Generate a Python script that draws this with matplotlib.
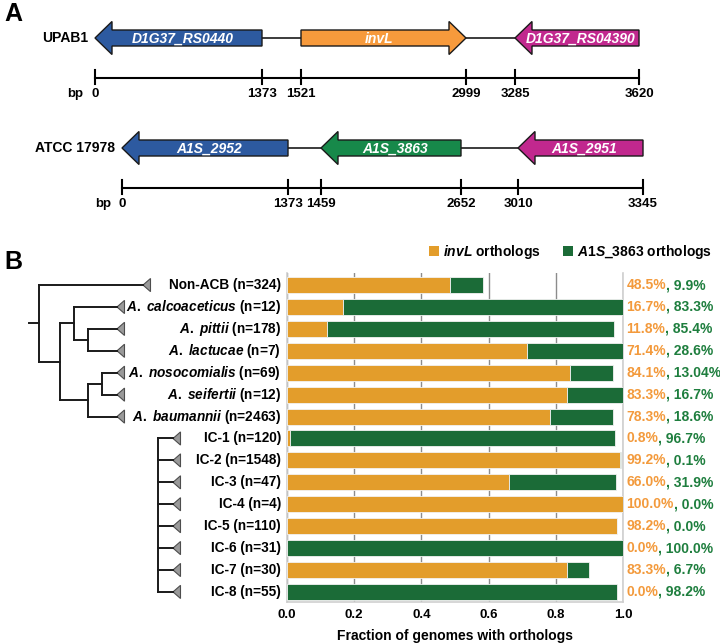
import numpy as np
import matplotlib.pyplot as plt
from matplotlib.patches import Polygon, Patch
import matplotlib.transforms as mtransforms

plt.rcParams['font.family'] = ['Liberation Sans', 'DejaVu Sans']
plt.rcParams['font.weight'] = 'bold'
plt.rcParams['mathtext.fontset'] = 'custom'
plt.rcParams['mathtext.it'] = 'Liberation Sans:italic:bold'
plt.rcParams['mathtext.rm'] = 'Liberation Sans:bold'
plt.rcParams['mathtext.bf'] = 'Liberation Sans:bold'

# ---- panel A data (gene neighbourhoods) ----
strain1 = 'UPAB1'
ticks1 = [0, 1373, 1521, 2999, 3285, 3620]
genes1 = ['D1G37_RS0440', 'invL', 'D1G37_RS04390']
starts1 = [0, 1521, 3285]
ends1 = [1373, 2999, 3620]
strand1 = [-1, 1, -1]

strain2 = 'ATCC 17978'
ticks2 = [0, 1373, 1459, 2652, 3010, 3345]
genes2 = ['A1S_2952', 'A1S_3863', 'A1S_2951']
starts2 = [0, 1459, 3010]
ends2 = [1373, 2652, 3345]
strand2 = [-1, -1, -1]

# ---- panel B data ----
groups = ['Non-ACB', 'A. calcoaceticus', 'A. pittii', 'A. lactucae',
          'A. nosocomialis', 'A. seifertii', 'A. baumannii',
          'IC-1', 'IC-2', 'IC-3', 'IC-4', 'IC-5', 'IC-6', 'IC-7', 'IC-8']
n_genomes = [324, 12, 178, 7, 69, 12, 2463, 120, 1548, 47, 4, 110, 31, 30, 55]
invl_pct = [48.5, 16.7, 11.8, 71.4, 84.1, 83.3, 78.3, 0.8, 99.2, 66.0, 100.0, 98.2, 0.0, 83.3, 0.0]
a1s_pct = [9.9, 83.3, 85.4, 28.6, 13.04, 16.7, 18.6, 96.7, 0.1, 31.9, 0.0, 0.0, 100.0, 6.7, 98.2]

# colours
c_blue = '#2d5aa0'
c_orange_gene = '#f79a3c'
c_magenta = '#c1288e'
c_green_gene = '#17894a'
c_bar_or = '#e39d2b'
c_bar_gr = '#1b6b37'
c_txt_or = '#f39a3c'
c_txt_gr = '#1e7e3e'

fig = plt.figure(figsize=(7.2, 6.44), dpi=100)

# pixel-like canvas for the schematic parts
axp = fig.add_axes([0, 0, 1, 1])
axp.set_xlim(0, 720)
axp.set_ylim(644, 0)
axp.axis('off')

# schematic (not to scale) positions of the ruler ticks
pos1 = [95, 262, 301, 466, 515, 639]
pos2 = [122, 288, 321, 461, 518, 643]


def gene_arrow(ax, x0, x1, y, strand, color, label):
    hl, bh, hh = 17, 8, 16.5
    if strand < 0:
        pts = [(x0, y), (x0 + hl, y - hh), (x0 + hl, y - bh), (x1, y - bh),
               (x1, y + bh), (x0 + hl, y + bh), (x0 + hl, y + hh)]
    else:
        pts = [(x1, y), (x1 - hl, y - hh), (x1 - hl, y - bh), (x0, y - bh),
               (x0, y + bh), (x1 - hl, y + bh), (x1 - hl, y + hh)]
    ax.add_patch(Polygon(pts, closed=True, facecolor=color, edgecolor='#1a1a1a', lw=1, zorder=3))
    ax.text((x0 + x1) / 2 - strand * 4, y + 0.5, label, color='white', fontsize=10,
            fontstyle='italic', fontweight='bold', ha='center', va='center', zorder=4)


def locus(ax, strain, ticks, pos, genes, starts, ends, strands, colors, y, ylab_x, bp_x):
    xs = lambda v: np.interp(v, ticks, pos)
    ax.text(ylab_x, y, strain, fontsize=10, ha='right', va='center')
    for k in range(len(genes)):
        gene_arrow(ax, xs(starts[k]), xs(ends[k]), y, strands[k], colors[k], genes[k])
        if k > 0:
            ax.plot([xs(ends[k - 1]), xs(starts[k])], [y, y], color='#1a1a1a', lw=1.2, zorder=2)
    yl = y + 40
    ax.plot([xs(ticks[0]), xs(ticks[-1])], [yl, yl], color='black', lw=1.5)
    for t in ticks:
        ax.plot([xs(t), xs(t)], [yl - 8, yl + 6], color='black', lw=1.5)
        ax.text(xs(t), yl + 16, str(t), fontsize=9.5, ha='center', va='center')
    ax.text(bp_x, yl + 16, 'bp', fontsize=9.5, ha='center', va='center')


locus(axp, strain1, ticks1, pos1, genes1, starts1, ends1, strand1,
      [c_blue, c_orange_gene, c_magenta], 38, 88, 75)
locus(axp, strain2, ticks2, pos2, genes2, starts2, ends2, strand2,
      [c_blue, c_green_gene, c_magenta], 148, 115, 103)

axp.text(4, 14, 'A', fontsize=18, fontweight='bold', ha='left', va='center')
axp.text(4, 262, 'B', fontsize=18, fontweight='bold', ha='left', va='center')

# ---- panel B: stacked bars ----
rows = np.arange(len(groups))
inv = np.array(invl_pct) / 100
a1s = np.array(a1s_pct) / 100

bottom, height = 1 - 602 / 644, 329 / 644
ax = fig.add_axes([287 / 720, bottom, 336 / 720, height])
ax.barh(rows, inv, height=0.73, color=c_bar_or, edgecolor='#f2f2f2', lw=0.6, zorder=3)
ax.barh(rows, a1s, left=inv, height=0.73, color=c_bar_gr, edgecolor='#f2f2f2', lw=0.6, zorder=3)
ax.set_xlim(0, 1)
ax.set_ylim(14.46, -0.55)
ax.set_yticks([])
ax.set_xticks(np.arange(0, 1.01, 0.2))
ax.set_xticklabels(['%.1f' % v for v in np.arange(0, 1.01, 0.2)], fontsize=9.5)
ax.tick_params(axis='x', length=0, pad=5)
ax.grid(axis='x', color='#8c8c8c', lw=1, zorder=0)
ax.spines['top'].set_visible(False)
for s in ['left', 'right', 'bottom']:
    ax.spines[s].set_color('#cfcfcf')
    ax.spines[s].set_linewidth(1.2)
ax.set_xlabel('Fraction of genomes with orthologs', fontsize=10, fontweight='bold', labelpad=6)

trans = mtransforms.blended_transform_factory(ax.transAxes, ax.transData)


def pct(v):
    return f'{v:.1f}%' if round(v, 1) == v else f'{v:.2f}%'


for i in rows:
    t1 = ax.text(1.01, i, pct(invl_pct[i]), color=c_txt_or, fontsize=10,
                 ha='left', va='center', transform=trans, clip_on=False)
    ax.annotate(', ' + pct(a1s_pct[i]), xy=(1, 0.5), xycoords=t1, color=c_txt_gr,
                fontsize=10, ha='left', va='center', annotation_clip=False)

handles = [Patch(facecolor=c_bar_or), Patch(facecolor=c_bar_gr)]
fig.legend(handles, [r'$\mathit{invL}$ orthologs', r'$\mathit{A1S\_3863}$ orthologs'],
           loc='center right', bbox_to_anchor=(712 / 720, 1 - 252 / 644), ncol=2,
           frameon=False, fontsize=10, handlelength=0.7, handleheight=0.7,
           handletextpad=0.3, columnspacing=1.6, borderpad=0, borderaxespad=0)

# ---- panel B: tree ----
axt = fig.add_axes([0, bottom, 287 / 720, height], sharey=ax)
axt.set_xlim(0, 287)
axt.axis('off')

leaf_tip = [143] + [117] * 6 + [173] * 8
tree = (39, [0, (60, [(74, [1, (88, [2, 3])]), (88, [(102, [4, 5]), 6])])])
ic_tree = (158, list(range(7, 15)))


def draw(node, parent_x):
    if isinstance(node, (int, np.integer)):
        y = node
        tip = leaf_tip[node]
        axt.plot([parent_x, tip], [y, y], color='#1a1a1a', lw=1.4)
        axt.add_patch(Polygon([(tip, y), (tip + 7.5, y - 0.3), (tip + 7.5, y + 0.3)],
                              closed=True, facecolor='#9a9a9a', edgecolor='#4d4d4d', lw=0.8))
        return y
    x, kids = node
    ys = [draw(k, x) for k in kids]
    axt.plot([x, x], [min(ys), max(ys)], color='#1a1a1a', lw=1.4)
    y = (min(ys) + max(ys)) / 2
    axt.plot([parent_x, x], [y, y], color='#1a1a1a', lw=1.4)
    return y


draw(tree, 29)
draw(ic_tree, 158)

for i, g in enumerate(groups):
    if g.startswith('A. '):
        genus, species = g.split(' ')
        lab = r'$\mathit{%s}$ $\mathit{%s}$ (n=%d)' % (genus, species, n_genomes[i])
    else:
        lab = '%s (n=%d)' % (g, n_genomes[i])
    axt.text(281, i, lab, fontsize=9.8, ha='right', va='center')

fig.savefig('out.png', dpi=100)
